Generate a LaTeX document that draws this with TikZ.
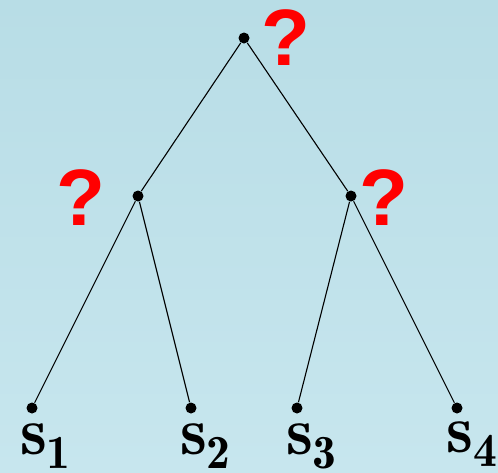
\documentclass[tikz,border=0pt]{standalone}
\usepackage{amsmath,amssymb,bm}
\usepackage{fontspec}
\newfontfamily\qfont{Liberation Sans}
\usepackage{tikz}
\usetikzlibrary{positioning}
\usepackage{xcolor}
\definecolor{bgtop}{HTML}{B8DDE6}
\definecolor{bgbot}{HTML}{C7E6EE}

\begin{document}
\begin{tikzpicture}[x=0.5pt, y=-0.5pt, every node/.style={inner sep=0pt}]
\tikzstyle{dot}=[circle, fill=black, minimum size=5.5pt]
\tikzstyle{leaf}=[font=\fontsize{34}{38}\selectfont]
\tikzstyle{ask}=[text=red, font=\qfont\bfseries\fontsize{40}{44}\selectfont]
\fill[top color=bgtop, bottom color=bgbot] (0,0) rectangle (498,472);
\useasboundingbox (0,0) rectangle (498,472);
\node[dot] (root) at (244,38) {};
\node[dot] (left) at (138,196) {};
\node[dot] (right) at (351,196) {};
\node[dot] (a) at (32,408) {};
\node[dot] (b) at (191,408) {};
\node[dot] (c) at (297,408) {};
\node[dot] (d) at (457,408) {};
\draw[line width=0.55pt] (root)--(left);
\draw[line width=0.55pt] (root)--(right);
\draw[line width=0.55pt] (left)--(a);
\draw[line width=0.55pt] (left)--(b);
\draw[line width=0.55pt] (right)--(c);
\draw[line width=0.55pt] (right)--(d);
\node[leaf] (la) at (46,446) {$\mathbf{s}_{\mathbf{1}}$};
\node[leaf] (lb) at (206,446) {$\mathbf{s}_{\mathbf{2}}$};
\node[leaf] (lc) at (312,446) {$\mathbf{s}_{\mathbf{3}}$};
\node[leaf] (ld) at (472,444) {$\mathbf{s}_{\mathbf{4}}$};
\node[ask] (q0) at (286,38) {?};
\node[ask] (q1) at (81,198) {?};
\node[ask] (q2) at (384,198) {?};
\end{tikzpicture}
\end{document}
